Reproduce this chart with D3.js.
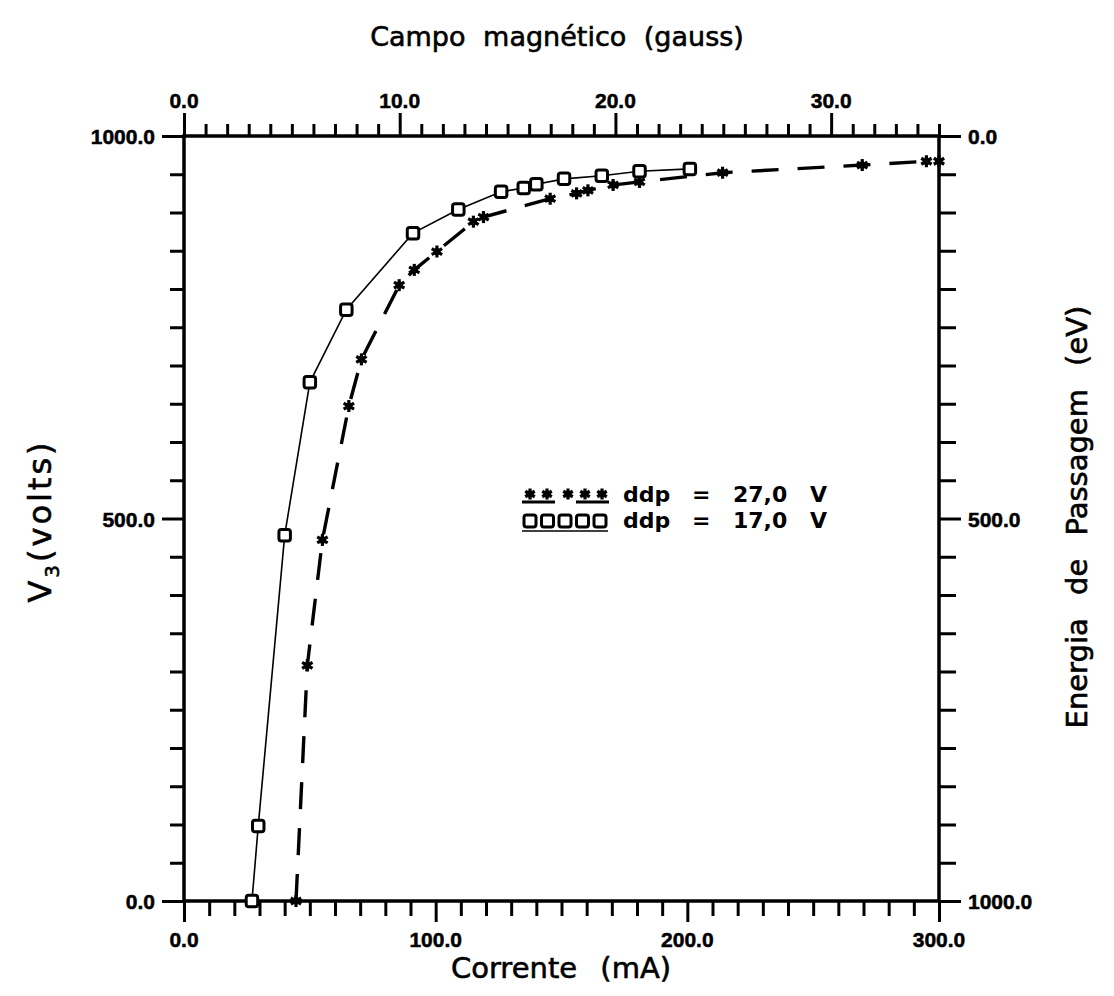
<!DOCTYPE html>
<html>
<head>
<meta charset="utf-8">
<script src="https://cdn.jsdelivr.net/npm/d3@7"></script>
<style>
  body { margin: 0; background: #fff; }
  svg text { fill: #000; }
</style>
</head>
<body>
<svg id="chart" width="1114" height="996"></svg>
<script>
// ddp = 17,0 V (squares, solid line)
const current17 = [27, 29.5, 40, 50, 64.5, 91, 109, 126, 135, 140, 151, 166, 181, 201];
const volts17   = [0, 98, 478, 678, 773, 873, 904, 927, 932, 937, 944, 948, 954, 957];

// ddp = 27,0 V (stars, dashed line)
const current27 = [44.5, 49, 55, 65.5, 70.5, 85.5, 91.5, 100.5, 115, 119, 145.5, 156, 160.5, 170.5, 181, 214, 269.5, 295, 300];
const volts27   = [0, 308, 472, 647, 708, 805, 825, 849, 888, 894, 918, 925, 929, 936, 940, 952, 962, 967, 967];

// axis ticks
const currentTicks = d3.range(0, 301, 10);
const currentLabels = [0, 100, 200, 300];
const fieldTicks = d3.range(0, 36, 1);
const fieldLabels = [0, 10, 20, 30];
const voltTicks = d3.range(0, 1001, 50);
const voltLabels = [0, 500, 1000];
const energyLabels = [0, 500, 1000];

const legendItems = [
  { marker: "star",   text: ["ddp", "=", "27,0", "V"] },
  { marker: "square", text: ["ddp", "=", "17,0", "V"] }
];

const svg = d3.select("#chart");
const L = 184, R = 939, T = 136, B = 901;

const x = d3.scaleLinear().domain([0, 300]).range([L, R]);
const xTop = d3.scaleLinear().domain([0, 35]).range([L, R]);
const y = d3.scaleLinear().domain([0, 1000]).range([B, T]);
const yRight = d3.scaleLinear().domain([0, 1000]).range([T, B]);
const fmt = d3.format(".1f");

const tickFont = "'Liberation Sans', Arial, sans-serif";
const tickSize = "21px";

function styleTicks(g) {
  g.select(".domain").remove();
  g.selectAll(".tick text").remove();
  return g.selectAll(".tick line").attr("stroke", "#000").attr("stroke-width", 3);
}
function tickText(sel) {
  return sel.style("font-family", tickFont).style("font-weight", "bold").style("font-size", tickSize)
    .attr("stroke", "#000").attr("stroke-width", 0.5);
}

// bottom: Corrente (mA)
{
  const g = svg.append("g").attr("transform", `translate(0,${B})`)
    .call(d3.axisBottom(x).tickValues(currentTicks).tickFormat(""));
  styleTicks(g).attr("y2", d => currentLabels.includes(d) ? 21 : 15);
  svg.append("g").selectAll("text").data(currentLabels).join("text")
    .attr("x", d => x(d)).attr("y", 947)
    .attr("text-anchor", "middle")
    .call(tickText)
    .text(d => fmt(d));
}

// top: Campo magnetico (gauss)
{
  const g = svg.append("g").attr("transform", `translate(0,${T})`)
    .call(d3.axisTop(xTop).tickValues(fieldTicks).tickFormat(""));
  styleTicks(g).attr("y2", d => fieldLabels.includes(d) ? -23 : -12);
  svg.append("g").selectAll("text").data(fieldLabels).join("text")
    .attr("x", d => xTop(d)).attr("y", 108)
    .attr("text-anchor", "middle")
    .call(tickText)
    .text(d => fmt(d));
}

// left: V3 (volts)
{
  const g = svg.append("g").attr("transform", `translate(${L},0)`)
    .call(d3.axisLeft(y).tickValues(voltTicks).tickFormat(""));
  styleTicks(g).attr("x2", d => voltLabels.includes(d) ? -22 : -14);
  svg.append("g").selectAll("text").data(voltLabels).join("text")
    .attr("x", 155).attr("y", d => y(d) + 8)
    .attr("text-anchor", "end")
    .call(tickText)
    .text(d => fmt(d));
}

// right: Energia de Passagem (eV)
{
  const g = svg.append("g").attr("transform", `translate(${R},0)`)
    .call(d3.axisRight(yRight).tickValues(voltTicks).tickFormat(""));
  styleTicks(g).attr("x2", d => energyLabels.includes(d) ? 22 : 17);
  svg.append("g").selectAll("text").data(energyLabels).join("text")
    .attr("x", 968).attr("y", d => yRight(d) + 8)
    .attr("text-anchor", "start")
    .call(tickText)
    .text(d => fmt(d));
}

// frame
svg.append("rect")
  .attr("x", L).attr("y", T).attr("width", R - L).attr("height", B - T)
  .attr("fill", "none").attr("stroke", "#000").attr("stroke-width", 3.5);

// curves
const line = d3.line().x(d => x(d[0])).y(d => y(d[1]));
const data17 = current17.map((c, i) => [c, volts17[i]]);
const data27 = current27.map((c, i) => [c, volts27[i]]);

svg.append("path").datum(data17).attr("d", line)
  .attr("fill", "none").attr("stroke", "#000").attr("stroke-width", 1.6);

svg.append("path").datum(data27).attr("d", line)
  .attr("fill", "none").attr("stroke", "#000").attr("stroke-width", 3.4)
  .attr("stroke-dasharray", "27,19");

// markers
function drawStar(sel, size) {
  const r = size / 2;
  [0, 60, 120].forEach(a => {
    const rad = a * Math.PI / 180;
    sel.append("line")
      .attr("x1", -r * Math.sin(rad)).attr("y1", -r * Math.cos(rad))
      .attr("x2", r * Math.sin(rad)).attr("y2", r * Math.cos(rad))
      .attr("stroke", "#000").attr("stroke-width", 3.2);
  });
  sel.append("circle").attr("r", 3.6).attr("fill", "#000");
}
function drawSquare(sel, size) {
  sel.append("rect")
    .attr("x", -size / 2).attr("y", -size / 2)
    .attr("width", size).attr("height", size).attr("rx", 2.5)
    .attr("fill", "#fff").attr("stroke", "#000").attr("stroke-width", 3);
}

svg.append("g").selectAll("g").data(data27).join("g")
  .attr("transform", d => `translate(${x(d[0])},${y(d[1])})`)
  .each(function () { drawStar(d3.select(this), 12); });

svg.append("g").selectAll("g").data(data17).join("g")
  .attr("transform", d => `translate(${x(d[0])},${y(d[1])})`)
  .each(function () { drawSquare(d3.select(this), 11.5); });

// legend
const legend = svg.append("g");
const legendRows = [502, 528];
const textX = [623, 692, 733, 810];
legendItems.forEach((item, i) => {
  const cy = legendRows[i];
  const row = legend.append("g");
  if (item.marker === "star") {
    [530, 547, 568, 585, 602].forEach(px => {
      drawStar(row.append("g").attr("transform", `translate(${px},${cy - 8})`), 11);
    });
    row.append("line").attr("x1", 522).attr("x2", 555).attr("y1", cy).attr("y2", cy)
      .attr("stroke", "#000").attr("stroke-width", 3);
    row.append("line").attr("x1", 576).attr("x2", 609).attr("y1", cy).attr("y2", cy)
      .attr("stroke", "#000").attr("stroke-width", 3);
  } else {
    d3.range(5).map(k => 530 + k * 17.5).forEach(px => {
      drawSquare(row.append("g").attr("transform", `translate(${px},${cy - 7})`), 12);
    });
    row.append("line").attr("x1", 522).attr("x2", 608).attr("y1", cy + 3).attr("y2", cy + 3)
      .attr("stroke", "#000").attr("stroke-width", 1.5);
  }
  item.text.forEach((t, k) => {
    row.append("text").attr("x", textX[k]).attr("y", cy)
      .style("font-family", "'DejaVu Sans', sans-serif").style("font-weight", "bold")
      .style("font-size", "22px")
      .text(t);
  });
});

// titles
const titleFont = "'DejaVu Sans', sans-serif";
function titleText(sel, size, ws) {
  return sel.style("font-family", titleFont).style("font-size", size)
    .style("word-spacing", ws).attr("stroke", "#000").attr("stroke-width", 0.6);
}

svg.append("text").attr("x", 557).attr("y", 46).attr("text-anchor", "middle")
  .call(titleText, "27px", "9px")
  .text("Campo magnético (gauss)");

svg.append("text").attr("x", 561).attr("y", 978).attr("text-anchor", "middle")
  .call(titleText, "29px", "14px")
  .text("Corrente (mA)");

const yt = svg.append("text")
  .attr("transform", "translate(51,521) rotate(-90)").attr("text-anchor", "middle")
  .call(titleText, "32px", "0px")
  .style("letter-spacing", "3px");
yt.append("tspan").text("V");
yt.append("tspan").attr("dy", 8).style("font-size", "20px").text("3");
yt.append("tspan").attr("dy", -8).text("(volts)");

svg.append("text")
  .attr("transform", "translate(1087,517) rotate(-90)").attr("text-anchor", "middle")
  .call(titleText, "29px", "14px")
  .text("Energia de Passagem (eV)");
</script>
</body>
</html>
